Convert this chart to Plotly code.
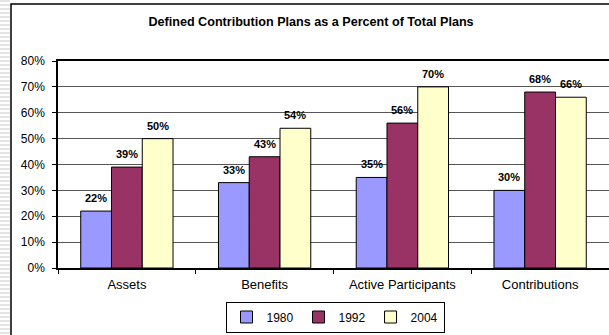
import plotly.graph_objects as go

categories = ["Assets", "Benefits", "Active Participants", "Contributions"]
years = ["1980", "1992", "2004"]
v1980 = [0.22, 0.33, 0.35, 0.30]
v1992 = [0.39, 0.43, 0.56, 0.68]
v2004 = [0.50, 0.54, 0.70, 0.66]
colors = ["#9999FF", "#993366", "#FFFFCC"]

W, H = 609, 335
L, R, T, B = 58, 0, 61, 67
pw, ph = W - L - R, H - T - B
FONT = "Liberation Sans, Arial"
BARGAP = 0.33

fig = go.Figure()
series = [v1980, v1992, v2004]
for name, vals, c in zip(years, series, colors):
    fig.add_trace(go.Bar(
        x=categories, y=vals, name=name,
        marker=dict(color=c, line=dict(color="black", width=1)),
    ))

# data labels above each bar, positioned from data via axis coordinates
bar_px = pw / len(categories) * (1 - BARGAP) / len(series)
annotations = []
for i, vals in enumerate(series):
    for cat, v in zip(categories, vals):
        annotations.append(dict(
            x=cat, y=v, xref="x", yref="y", text=f"<b>{round(v*100)}%</b>",
            showarrow=False, xshift=(i - 1) * bar_px, yshift=5, yanchor="bottom",
            font=dict(family=FONT, size=11, color="black")))

def px_x(x):
    return (x - L) / pw

def px_y(y):
    return (H - B - y) / ph

shapes = []
for yy in range(0, H, 4):
    shapes.append(dict(type="rect", xref="paper", yref="paper",
                       x0=px_x(0), x1=px_x(10), y0=px_y(yy + 2), y1=px_y(yy),
                       fillcolor="#e4e4e4", line=dict(width=0), layer="below"))
shapes.append(dict(type="rect", xref="paper", yref="paper",
                   x0=px_x(11), x1=px_x(W + 20), y0=px_y(H + 20), y1=px_y(4),
                   line=dict(color="black", width=1.5), fillcolor="rgba(0,0,0,0)"))

fig.update_layout(
    width=W, height=H,
    margin=dict(l=L, r=R, t=T, b=B),
    paper_bgcolor="white", plot_bgcolor="white",
    barmode="group", bargap=BARGAP, bargroupgap=0,
    font=dict(family=FONT, size=12, color="black"),
    title=dict(text="<b>Defined Contribution Plans as a Percent of Total Plans</b>",
               x=311 / W, xanchor="center", y=1 - 22 / H, yanchor="middle",
               font=dict(family=FONT, size=12.6, color="black")),
    showlegend=True,
    legend=dict(orientation="h", x=px_x(335), xanchor="center", y=px_y(317), yanchor="middle",
                bordercolor="black", borderwidth=1, bgcolor="white",
                font=dict(family=FONT, size=12, color="black"),
                itemwidth=30, tracegroupgap=0),
    shapes=shapes,
    annotations=annotations,
)
fig.update_xaxes(showline=True, linecolor="black", linewidth=1.5, mirror=True,
                 ticks="outside", tickson="boundaries", ticklen=4, tickcolor="black",
                 tickfont=dict(size=13), showgrid=False, ticklabelstandoff=4)
fig.update_yaxes(range=[0, 0.8], dtick=0.1, tickformat=".0%", showline=True,
                 linecolor="black", linewidth=1.5, ticks="outside", ticklen=4,
                 tickcolor="black", showgrid=True, gridcolor="#555555", gridwidth=1,
                 tickfont=dict(size=12), zeroline=False, ticklabelstandoff=5)

fig.write_html("out.html")
